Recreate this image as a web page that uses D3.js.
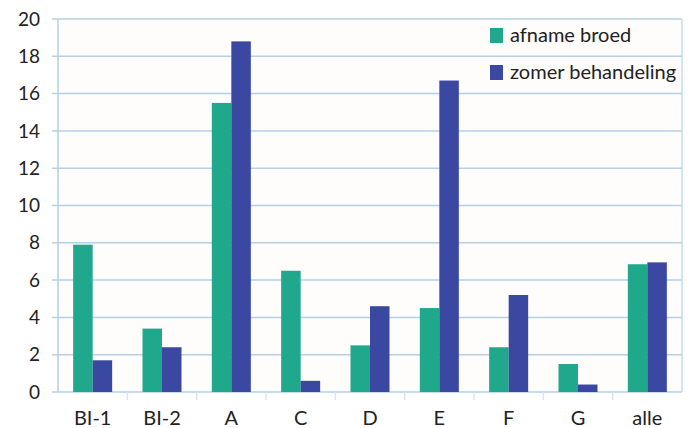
<!DOCTYPE html>
<html>
<head>
<meta charset="utf-8">
<script src="https://cdn.jsdelivr.net/npm/d3@7"></script>
<style>
  body { margin: 0; background: #fff; }
  text { font-family: Lato, "Open Sans", sans-serif; fill: #222; }
</style>
</head>
<body>
<div id="chart"></div>
<script>
var categories = ["BI-1", "BI-2", "A", "C", "D", "E", "F", "G", "alle"];
var seriesNames = ["afname broed", "zomer behandeling"];
var afnameBroed = [7.9, 3.4, 15.5, 6.5, 2.5, 4.5, 2.4, 1.5, 6.85];
var zomerBehandeling = [1.7, 2.4, 18.8, 0.6, 4.6, 16.7, 5.2, 0.4, 6.95];
var yTicks = [0, 2, 4, 6, 8, 10, 12, 14, 16, 18, 20];
var colors = ["#1fa88b", "#3a48a2"];

var margin = { top: 19, right: 11, bottom: 36, left: 58 };
var width = 693 - margin.left - margin.right;
var plotH = 373;

var svg = d3.select("#chart").append("svg")
    .attr("width", 693)
    .attr("height", 428);

var g = svg.append("g")
    .attr("transform", "translate(" + margin.left + "," + margin.top + ")");

var x = d3.scaleBand().domain(categories).range([0, width]);
var y = d3.scaleLinear().domain([0, 20]).range([plotH, 0]);
var xSub = d3.scaleBand().domain([0, 1]).range([0, 39]);

// faint background
g.append("rect")
    .attr("width", width)
    .attr("height", plotH)
    .attr("fill", "#fffcfc");

// horizontal gridlines
g.selectAll(".grid")
    .data(yTicks)
    .enter().append("line")
    .attr("x1", -6)
    .attr("x2", width)
    .attr("y1", function (d) { return y(d); })
    .attr("y2", function (d) { return y(d); })
    .attr("stroke", "#b3d0e6")
    .attr("stroke-width", 1.5);

// side lines
g.append("line").attr("x1", 0).attr("x2", 0).attr("y1", 0).attr("y2", plotH)
    .attr("stroke", "#b3d0e6").attr("stroke-width", 1.5);
g.append("line").attr("x1", width).attr("x2", width).attr("y1", 0).attr("y2", plotH)
    .attr("stroke", "#c6dcec").attr("stroke-width", 1.5);

// small ticks below axis between categories
g.selectAll(".xtick")
    .data(categories.slice(1))
    .enter().append("line")
    .attr("x1", function (d) { return x(d); })
    .attr("x2", function (d) { return x(d); })
    .attr("y1", plotH)
    .attr("y2", plotH + 8)
    .attr("stroke", "#d6e5f1")
    .attr("stroke-width", 1.5);

// y labels
g.selectAll(".ylab")
    .data(yTicks)
    .enter().append("text")
    .attr("x", -18)
    .attr("y", function (d) { return y(d); })
    .attr("dy", "0.35em")
    .attr("text-anchor", "end")
    .attr("font-size", "19px")
    .text(function (d) { return d; });

// x labels
g.selectAll(".xlab")
    .data(categories)
    .enter().append("text")
    .attr("x", function (d) { return x(d) + x.bandwidth() / 2; })
    .attr("y", 406)
    .attr("text-anchor", "middle")
    .attr("font-size", "20px")
    .text(function (d) { return d; });

var groups = g.selectAll(".group")
    .data(categories)
    .enter().append("g")
    .attr("transform", function (d) {
        return "translate(" + (x(d) + x.bandwidth() / 2 - 19.5) + ",0)";
    });

groups.selectAll("rect")
    .data(function (d, i) { return [afnameBroed[i], zomerBehandeling[i]]; })
    .enter().append("rect")
    .attr("x", function (d, j) { return xSub(j); })
    .attr("width", xSub.bandwidth())
    .attr("y", function (d) { return y(d); })
    .attr("height", function (d) { return plotH - y(d); })
    .attr("fill", function (d, j) { return colors[j]; });

// legend
var legend = svg.append("g").attr("transform", "translate(490,28)");
seriesNames.forEach(function (name, i) {
    legend.append("rect")
        .attr("x", 0)
        .attr("y", i * 37)
        .attr("width", 13)
        .attr("height", 15)
        .attr("fill", colors[i]);
    legend.append("text")
        .attr("x", 20)
        .attr("y", i * 37 + 14)
        .attr("font-size", "20px")
        .text(name);
});
</script>
</body>
</html>
